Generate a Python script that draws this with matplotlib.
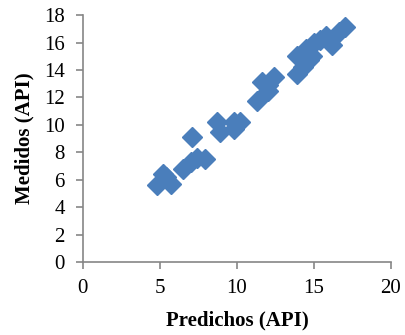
import matplotlib
matplotlib.use('Agg')
import matplotlib.pyplot as plt

# valores
predichos = [4.8, 5.2, 5.7, 5.4, 6.5, 7.0, 7.1, 7.9, 7.4, 8.7, 8.9, 9.8, 10.2, 9.8,
             11.3, 11.6, 12.0, 12.4, 12.0, 13.9, 13.9, 14.3, 14.5, 14.7, 15.0, 14.9,
             15.8, 16.2, 15.4, 17.0, 16.6]
medidos = [5.6, 6.4, 5.7, 6.2, 6.8, 7.3, 9.1, 7.5, 7.6, 10.2, 9.5, 10.2, 10.2, 9.7,
           11.7, 13.1, 12.5, 13.5, 12.9, 13.7, 15.0, 14.2, 15.5, 14.7, 16.0, 15.0,
           16.5, 15.8, 16.2, 17.1, 16.8]

xticks = [0, 5, 10, 15, 20]
yticks = [0, 2, 4, 6, 8, 10, 12, 14, 16, 18]

plt.rcParams['font.family'] = ['Liberation Serif', 'DejaVu Serif']

fig = plt.figure(figsize=(4.06, 3.35), dpi=100)
ax = fig.add_axes([0.204, 0.218, 0.759, 0.737])

ax.plot(predichos, medidos, linestyle='none', marker='D', markersize=10.5,
        color='#4a7ebb', markeredgecolor='#4a7ebb')

ax.set_xlim(0, 20)
ax.set_ylim(0, 18)
ax.set_xticks(xticks)
ax.set_yticks(yticks)

for s in ['top', 'right']:
    ax.spines[s].set_visible(False)
for s in ['left', 'bottom']:
    ax.spines[s].set_color('#868686')
    ax.spines[s].set_linewidth(1.2)
ax.tick_params(direction='out', length=5, width=1.2, color='#868686',
               labelsize=15)
ax.tick_params(axis='y', pad=8)
ax.tick_params(axis='x', pad=7)

ax.set_xlabel('Predichos (API)', fontsize=15, fontweight='bold', labelpad=9)
ax.set_ylabel('Medidos (API)', fontsize=15, fontweight='bold', labelpad=7)

fig.savefig('out.png', dpi=100)
